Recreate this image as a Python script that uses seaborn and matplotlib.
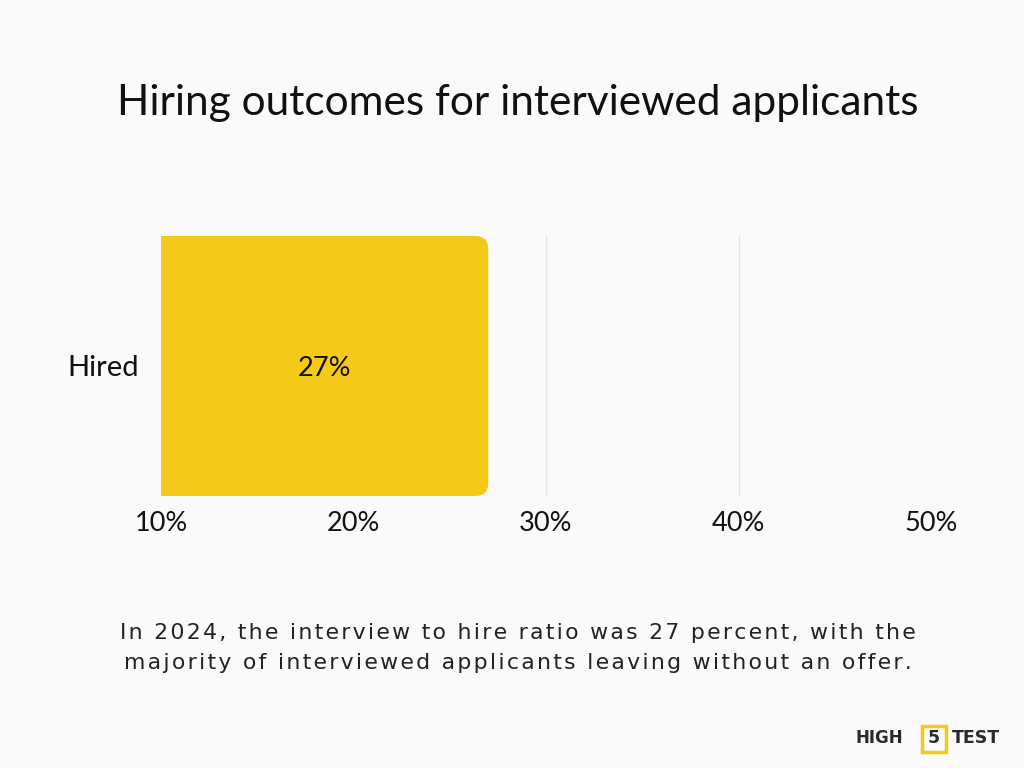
import matplotlib
matplotlib.use("Agg")
import matplotlib.pyplot as plt
import pandas as pd
import seaborn as sns
from matplotlib.patches import FancyBboxPatch, Rectangle
from matplotlib.ticker import FuncFormatter

# Datos
categorias = ["Hired"]
valores = [27]
ticks = [10, 20, 30, 40, 50]

titulo = "Hiring outcomes for interviewed applicants"
nota_lineas = ["In 2024, the interview to hire ratio was 27 percent, with the",
               "majority of interviewed applicants leaving without an offer."]

fondo = "#fafafa"
amarillo = "#f5c919"

sns.set_theme(style="white")
plt.rcParams["font.family"] = ["Lato", "DejaVu Sans"]

df = pd.DataFrame({"categoria": categorias, "valor": valores})

fig = plt.figure(figsize=(10.24, 7.68), dpi=100, facecolor=fondo)
ax = fig.add_axes([0.1572, 0.3542, 0.752, 0.3385])
ax.set_facecolor(fondo)

sns.barplot(data=df, x="valor", y="categoria", orient="h", color=amarillo,
            width=1.0, saturation=1, ax=ax, zorder=3)

# Sustituir la barra por una con esquinas redondeadas
for p in list(ax.patches):
    x0, y0 = p.get_x(), p.get_y()
    w, h = p.get_width(), p.get_height()
    p.remove()
    rb = FancyBboxPatch((x0, y0), w, h,
                        boxstyle="round,pad=0,rounding_size=0.68",
                        mutation_aspect=0.074, facecolor=amarillo,
                        edgecolor="none", zorder=3)
    ax.add_patch(rb)
    ax.text(10 + (w - 10) / 2, y0 + h / 2 + 0.01, f"{w:.0f}%", ha="center",
            va="center", fontsize=19.5, color="#111111", zorder=4)

ax.set_xlim(10, 50)
ax.set_ylim(0.5, -0.5)
ax.set_xticks(ticks)
ax.xaxis.set_major_formatter(FuncFormatter(lambda v, _: f"{v:.0f}%"))
ax.grid(axis="x", color="#e2e2e2", linewidth=1, zorder=0)
ax.grid(axis="y", visible=False)
for s in ax.spines.values():
    s.set_visible(False)
ax.tick_params(axis="x", length=0, pad=11, labelsize=19.5, labelcolor="#111111")
ax.tick_params(axis="y", length=0, pad=16, labelsize=21, labelcolor="#111111")
ax.set_xlabel("")
ax.set_ylabel("")

fig.text(0.506, 0.866, titulo, ha="center", va="center", fontsize=30.5,
         color="#111111")

# Nota con algo de espaciado entre letras
espaciado = "\u200a"
for i, linea in enumerate(nota_lineas):
    fig.text(0.506, 0.176 - i * 0.039, espaciado.join(linea), ha="center",
             va="center", fontsize=15.8, color="#222222",
             family=["DejaVu Sans"])

# Logo
fig.text(0.882, 0.0385, "HIGH", ha="right", va="center", fontsize=12,
         fontweight="bold", color="#2a2a2a", family=["DejaVu Sans"])
fig.patches.append(Rectangle((0.9, 0.021), 0.0235, 0.034,
                             transform=fig.transFigure, facecolor="none",
                             edgecolor=amarillo, linewidth=2.5))
fig.text(0.9118, 0.0385, "5", ha="center", va="center", fontsize=12.5,
         fontweight="bold", color="#2a2a2a", family=["DejaVu Sans"])
fig.text(0.93, 0.0385, "TEST", ha="left", va="center", fontsize=12.5,
         fontweight="bold", color="#2a2a2a", family=["DejaVu Sans"])

fig.savefig("out.png", dpi=100, facecolor=fondo)
